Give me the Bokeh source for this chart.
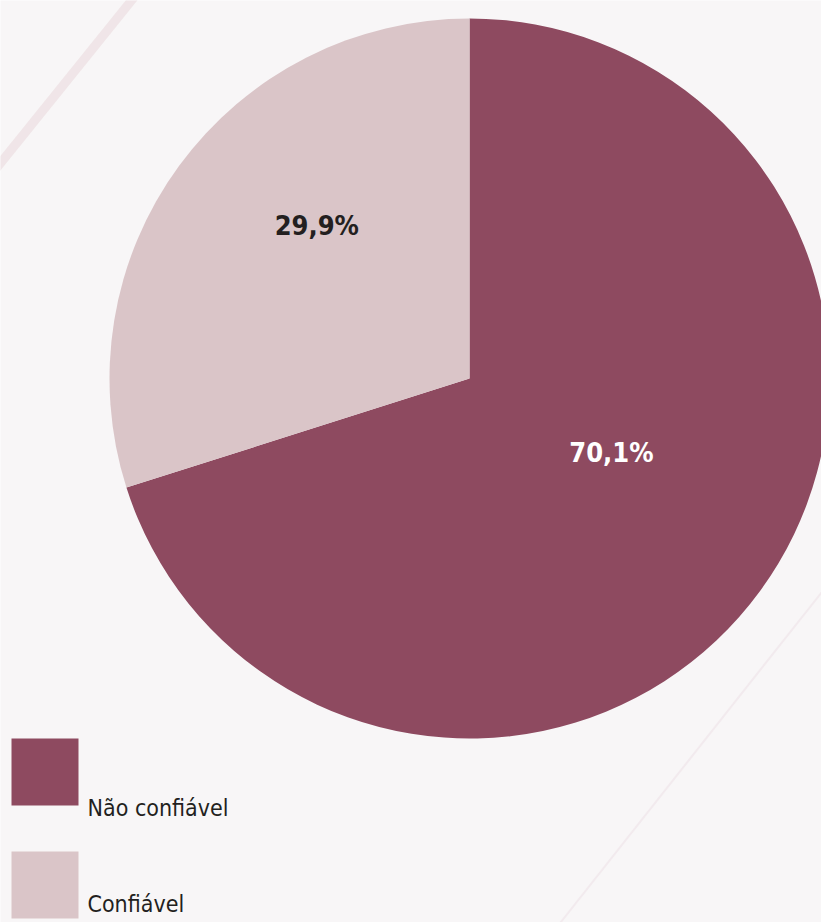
import math
from bokeh.plotting import figure
from bokeh.models import Range1d, ColumnDataSource
from bokeh.core.properties import value
from bokeh.embed import file_html
from bokeh.resources import INLINE

# ---- data ----
categories = ["Não confiável", "Confiável"]
shares = [70.1, 29.9]
label_texts = ["70,1%", "29,9%"]
colors = ["#8e4a60", "#dac5c8"]
label_colors = ["#ffffff", "#231f20"]

W, H = 821, 922
FONT = "'Liberation Sans Narrow', 'DejaVu Sans Condensed', sans-serif"

p = figure(width=W, height=H, x_range=Range1d(0, W), y_range=Range1d(0, H),
           output_backend="svg", toolbar_location=None, min_border=0)
p.axis.visible = False
p.grid.visible = False
p.outline_line_color = None
p.background_fill_color = "#f8f6f7"
p.border_fill_color = "#f8f6f7"

# faint decorative background strokes
p.line([-10, 135], [H - 175, H + 5], line_color="#eee3e6", line_width=9, alpha=0.9)
p.line([560, 821], [0, 330], line_color="#efe6e9", line_width=2, alpha=0.7)

# ---- pie ----
cx, cy, R = 469, H - 378, 360
total = sum(shares)
start = math.pi / 2
starts, ends = [], []
a = start
for s in shares:
    starts.append(a)
    a = a - s / total * 2 * math.pi
    ends.append(a)

src = ColumnDataSource(dict(start=starts, end=ends, color=colors))
p.wedge(x=cx, y=cy, radius=R, start_angle="start", end_angle="end",
        direction="clock", fill_color="color", line_color=None, source=src)

# label placement (layout): radial distance and angle in px space
label_pos = [(160, -27.5), (216, 135.0)]
lx = [cx + r * math.cos(math.radians(d)) for r, d in label_pos]
ly = [cy + r * math.sin(math.radians(d)) for r, d in label_pos]
p.text(x=lx, y=ly, text=label_texts, text_color=label_colors,
       text_font=value(FONT), text_font_style="bold", text_font_size="27px",
       text_align="center", text_baseline="middle")

# ---- legend ----
sq = 67
leg_top = [H - 738, H - 851]
text_base = [H - 807, H - 903]
for i, cat in enumerate(categories):
    top = leg_top[i]
    p.quad(left=11, right=11 + sq, top=top, bottom=top - sq,
           fill_color=colors[i], line_color=None)
    p.text(x=[87], y=[text_base[i]], text=[cat], text_color="#231f20",
           text_font=value(FONT), text_font_size="23px",
           text_align="left", text_baseline="alphabetic")

open("out.html", "w").write(file_html(p, INLINE))
